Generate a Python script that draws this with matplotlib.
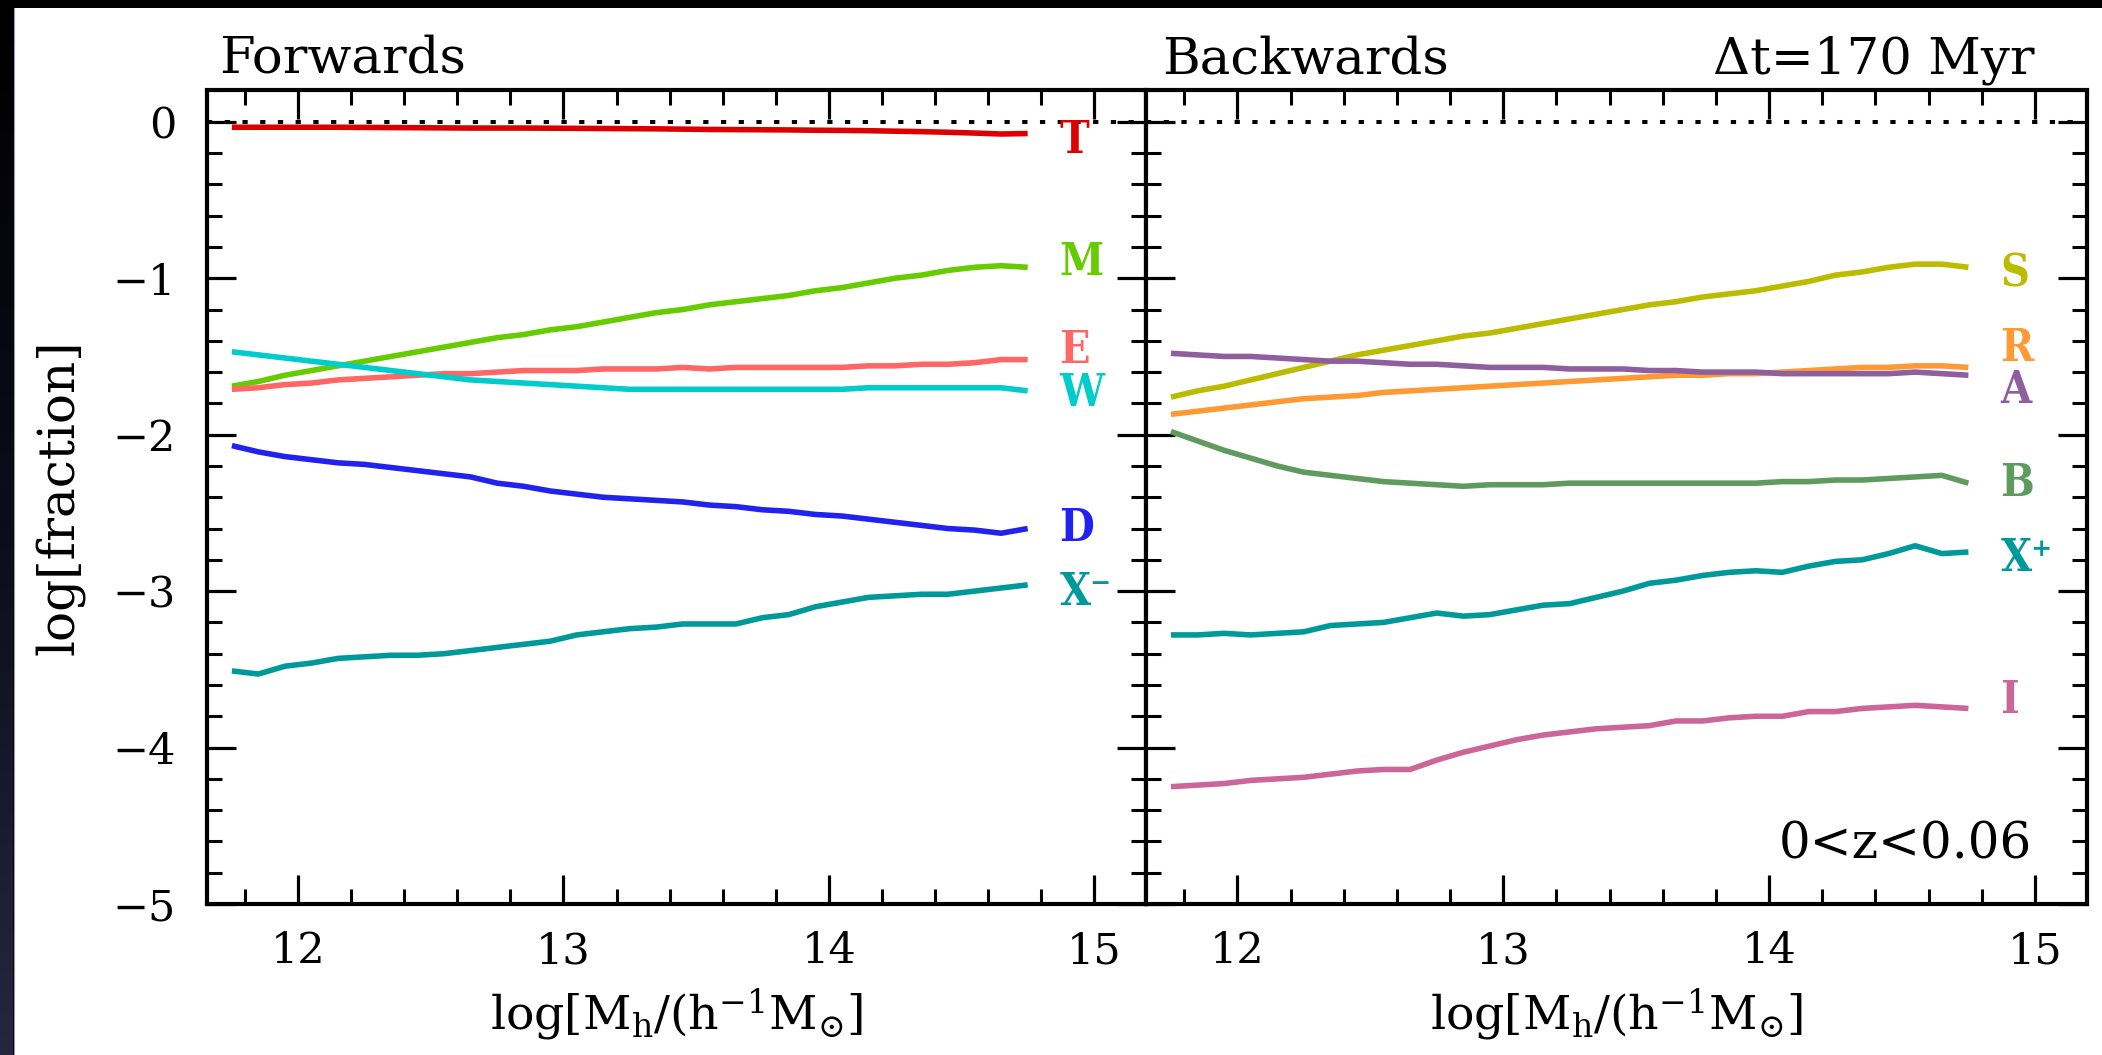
import numpy as np
import matplotlib
matplotlib.use("Agg")
import matplotlib.pyplot as plt
from matplotlib.ticker import MultipleLocator
from matplotlib.patches import Rectangle

plt.rcParams["font.family"] = ["DejaVu Serif", "DejaVu Sans"]
plt.rcParams["mathtext.fontset"] = "dejavuserif"

# halo mass bins, log[M_h / (h^-1 M_sun)]
log_mh = [11.75, 11.85, 11.95, 12.05, 12.15, 12.25, 12.35, 12.45, 12.55, 12.65,
          12.75, 12.85, 12.95, 13.05, 13.15, 13.25, 13.35, 13.45, 13.55, 13.65,
          13.75, 13.85, 13.95, 14.05, 14.15, 14.25, 14.35, 14.45, 14.55, 14.65,
          14.75]

# forwards fractions (log)
frac_T = [-0.035, -0.035, -0.035, -0.035, -0.035, -0.036, -0.037, -0.038, -0.039, -0.040,
          -0.040, -0.040, -0.041, -0.042, -0.043, -0.044, -0.045, -0.047, -0.049, -0.050,
          -0.051, -0.052, -0.054, -0.055, -0.057, -0.060, -0.063, -0.067, -0.072, -0.078,
          -0.075]
frac_M = [-1.69, -1.66, -1.62, -1.59, -1.56, -1.53, -1.50, -1.47, -1.44, -1.41,
          -1.38, -1.36, -1.33, -1.31, -1.28, -1.25, -1.22, -1.20, -1.17, -1.15,
          -1.13, -1.11, -1.08, -1.06, -1.03, -1.00, -0.98, -0.95, -0.93, -0.92,
          -0.93]
frac_E = [-1.71, -1.70, -1.68, -1.67, -1.65, -1.64, -1.63, -1.62, -1.61, -1.61,
          -1.60, -1.59, -1.59, -1.59, -1.58, -1.58, -1.58, -1.57, -1.58, -1.57,
          -1.57, -1.57, -1.57, -1.57, -1.56, -1.56, -1.55, -1.55, -1.54, -1.52,
          -1.52]
frac_W = [-1.47, -1.49, -1.51, -1.53, -1.55, -1.57, -1.59, -1.61, -1.63, -1.65,
          -1.66, -1.67, -1.68, -1.69, -1.70, -1.71, -1.71, -1.71, -1.71, -1.71,
          -1.71, -1.71, -1.71, -1.71, -1.70, -1.70, -1.70, -1.70, -1.70, -1.70,
          -1.72]
frac_D = [-2.07, -2.11, -2.14, -2.16, -2.18, -2.19, -2.21, -2.23, -2.25, -2.27,
          -2.31, -2.33, -2.36, -2.38, -2.40, -2.41, -2.42, -2.43, -2.45, -2.46,
          -2.48, -2.49, -2.51, -2.52, -2.54, -2.56, -2.58, -2.60, -2.61, -2.63,
          -2.60]
frac_Xm = [-3.51, -3.53, -3.48, -3.46, -3.43, -3.42, -3.41, -3.41, -3.40, -3.38,
           -3.36, -3.34, -3.32, -3.28, -3.26, -3.24, -3.23, -3.21, -3.21, -3.21,
           -3.17, -3.15, -3.10, -3.07, -3.04, -3.03, -3.02, -3.02, -3.00, -2.98,
           -2.96]

# backwards fractions (log)
frac_S = [-1.76, -1.72, -1.69, -1.65, -1.61, -1.57, -1.53, -1.49, -1.46, -1.43,
          -1.40, -1.37, -1.35, -1.32, -1.29, -1.26, -1.23, -1.20, -1.17, -1.15,
          -1.12, -1.10, -1.08, -1.05, -1.02, -0.98, -0.96, -0.93, -0.91, -0.91,
          -0.93]
frac_R = [-1.87, -1.85, -1.83, -1.81, -1.79, -1.77, -1.76, -1.75, -1.73, -1.72,
          -1.71, -1.70, -1.69, -1.68, -1.67, -1.66, -1.65, -1.64, -1.63, -1.62,
          -1.62, -1.61, -1.61, -1.60, -1.59, -1.58, -1.57, -1.57, -1.56, -1.56,
          -1.57]
frac_A = [-1.48, -1.49, -1.50, -1.50, -1.51, -1.52, -1.53, -1.53, -1.54, -1.55,
          -1.55, -1.56, -1.57, -1.57, -1.57, -1.58, -1.58, -1.58, -1.59, -1.59,
          -1.60, -1.60, -1.60, -1.61, -1.61, -1.61, -1.61, -1.61, -1.60, -1.61,
          -1.62]
frac_B = [-1.98, -2.04, -2.10, -2.15, -2.20, -2.24, -2.26, -2.28, -2.30, -2.31,
          -2.32, -2.33, -2.32, -2.32, -2.32, -2.31, -2.31, -2.31, -2.31, -2.31,
          -2.31, -2.31, -2.31, -2.30, -2.30, -2.29, -2.29, -2.28, -2.27, -2.26,
          -2.31]
frac_Xp = [-3.28, -3.28, -3.27, -3.28, -3.27, -3.26, -3.22, -3.21, -3.20, -3.17,
           -3.14, -3.16, -3.15, -3.12, -3.09, -3.08, -3.04, -3.00, -2.95, -2.93,
           -2.90, -2.88, -2.87, -2.88, -2.84, -2.81, -2.80, -2.76, -2.71, -2.76,
           -2.75]
frac_I = [-4.25, -4.24, -4.23, -4.21, -4.20, -4.19, -4.17, -4.15, -4.14, -4.14,
          -4.08, -4.03, -3.99, -3.95, -3.92, -3.90, -3.88, -3.87, -3.86, -3.83,
          -3.83, -3.81, -3.80, -3.80, -3.77, -3.77, -3.75, -3.74, -3.73, -3.74,
          -3.75]

forward_names = ["T", "M", "E", "W", "D", "X⁻"]
forward_series = [frac_T, frac_M, frac_E, frac_W, frac_D, frac_Xm]
forward_colors = ["#dd0000", "#66cc00", "#ff6666", "#00cccc", "#2222ee", "#009999"]
forward_label_y = [-0.12, -0.90, -1.46, -1.74, -2.60, -3.01]

backward_names = ["S", "R", "A", "B", "X⁺", "I"]
backward_series = [frac_S, frac_R, frac_A, frac_B, frac_Xp, frac_I]
backward_colors = ["#bbbb00", "#ff9933", "#8e5e9e", "#5f9a5f", "#009999", "#cc6699"]
backward_label_y = [-0.97, -1.45, -1.72, -2.31, -2.79, -3.70]

label_x = 14.87
xlim = (11.655, 15.195)
ylim = (-5.0, 0.2)

W, H = 2102, 1055
fig = plt.figure(figsize=(W / 100, H / 100), dpi=100, facecolor="black")

# white page with a dark strip on the left edge
fig.patches.append(Rectangle((14 / W, 0), 1, 1 - 8 / H, transform=fig.transFigure,
                             facecolor="white", edgecolor="none", zorder=-10))
strip = fig.add_axes([0, 0, 13 / W, 1 - 0 / H])
grad = np.linspace(0, 1, 256)[:, None]
from matplotlib.colors import LinearSegmentedColormap
cmap = LinearSegmentedColormap.from_list("edge", ["#000000", "#0c0c1c", "#26263f"])
strip.imshow(grad, aspect="auto", cmap=cmap, extent=(0, 1, 0, 1), origin="upper")
strip.set_axis_off()
fig.add_artist(plt.Line2D([13.5 / W, 13.5 / W], [0, 1 - 8 / H], transform=fig.transFigure,
                          color="#9a9aa8", lw=0.8))

bottom = (H - 904) / H
height = (904 - 90.5) / H
ax1 = fig.add_axes([206.7 / W, bottom, (1145.7 - 206.7) / W, height])
ax2 = fig.add_axes([1145.7 / W, bottom, (2086.7 - 1145.7) / W, height])

tick_font = 31

for ax in (ax1, ax2):
    ax.set_xlim(*xlim)
    ax.set_ylim(*ylim)
    ax.xaxis.set_major_locator(MultipleLocator(1))
    ax.xaxis.set_minor_locator(MultipleLocator(0.2))
    ax.yaxis.set_major_locator(MultipleLocator(1))
    ax.yaxis.set_minor_locator(MultipleLocator(0.2))
    ax.tick_params(which="both", direction="in", top=True, right=True,
                   labelsize=tick_font, color="black")
    ax.tick_params(which="major", length=21, width=2.3, pad=19)
    ax.tick_params(which="minor", length=11, width=2.2)
    ax.tick_params(axis="y", which="major", pad=22)
    for sp in ax.spines.values():
        sp.set_linewidth(3.0)
    ax.axhline(0, color="black", lw=2.9, linestyle=(0, (1.3, 3.1)),
               dash_capstyle="butt", zorder=1)
    ax.set_xlabel(r"log[M$_{\rm h}$/(h$^{-1}$M$_{\odot}$]", fontsize=34, va="baseline")
    ax.xaxis.set_label_coords(0.5, -0.155)

ax2.tick_params(axis="y", labelleft=False)

ax1.set_ylabel("log[fraction]", fontsize=36, va="center")
ax1.yaxis.set_label_coords(-0.157, 0.5)

for name, ys, c, ly in zip(forward_names, forward_series, forward_colors, forward_label_y):
    ax1.plot(log_mh, ys, color=c, lw=4, solid_capstyle="butt", zorder=3)
    ax1.text(label_x, ly, name, color=c, fontsize=32, fontweight="bold",
             fontstretch="condensed", ha="left", va="center")

for name, ys, c, ly in zip(backward_names, backward_series, backward_colors, backward_label_y):
    ax2.plot(log_mh, ys, color=c, lw=4, solid_capstyle="butt", zorder=3)
    ax2.text(label_x, ly, name, color=c, fontsize=32, fontweight="bold",
             fontstretch="condensed", ha="left", va="center")

ax1.text(0.013, 1.0227, "Forwards", transform=ax1.transAxes, fontsize=37,
         ha="left", va="baseline")
ax2.text(0.017, 1.0215, "Backwards", transform=ax2.transAxes, fontsize=37,
         ha="left", va="baseline")
ax2.text(0.945, 1.0215, "Δt=170 Myr", transform=ax2.transAxes, fontsize=37,
         ha="right", va="baseline")
ax2.text(0.942, 0.0565, "0<z<0.06", transform=ax2.transAxes, fontsize=36,
         ha="right", va="baseline")

fig.savefig("out.png", dpi=100, facecolor=fig.get_facecolor())
